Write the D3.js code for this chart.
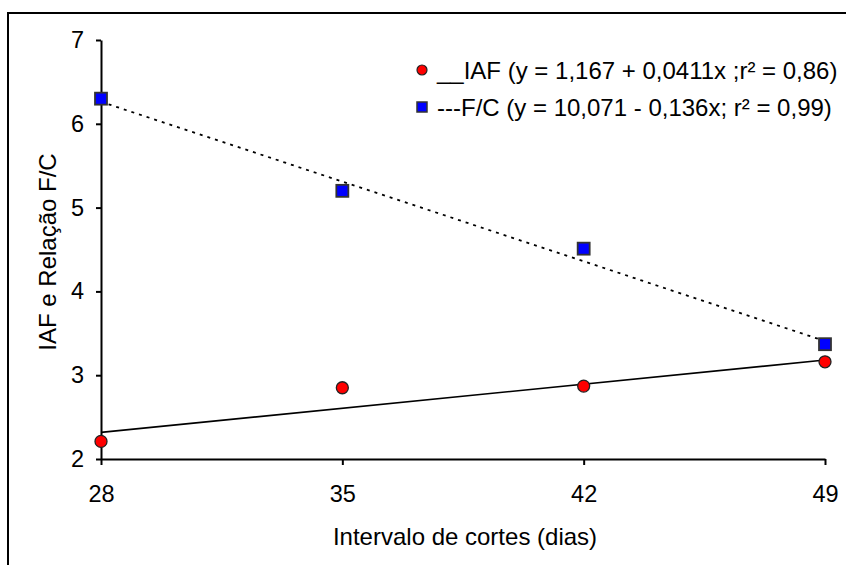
<!DOCTYPE html>
<html>
<head>
<meta charset="utf-8">
<script src="https://cdn.jsdelivr.net/npm/d3@7"></script>
<style>
  body { margin: 0; background: #fff; }
  svg text { font-family: "Liberation Sans", Arial, sans-serif; fill: #000; }
</style>
</head>
<body>
<div id="chart"></div>
<script>
// data
const days = [28, 35, 42, 49];
const iaf = [2.21, 2.85, 2.87, 3.16];
const fc = [6.3, 5.2, 4.51, 3.37];
const yTicks = [2, 3, 4, 5, 6, 7];
// regression coefficients from the legend
const iafFit = { a: 1.167, b: 0.0411 };
const fcFit = { a: 10.071, b: -0.136 };
const legendLabels = [
  "__IAF (y = 1,167 + 0,0411x ;r\u00b2 = 0,86)",
  "---F/C (y = 10,071 - 0,136x; r\u00b2 = 0,99)"
];

const W = 846, H = 565;
const margin = { top: 40, right: 21, bottom: 106, left: 101 };

const svg = d3.select("#chart").append("svg")
  .attr("width", W)
  .attr("height", H);

// outer frame (runs off the right and bottom edges)
svg.append("rect")
  .attr("x", 8).attr("y", 13)
  .attr("width", W).attr("height", H)
  .attr("fill", "none")
  .attr("stroke", "#000")
  .attr("stroke-width", 2);

const x = d3.scaleLinear().domain([28, 49]).range([margin.left, W - margin.right]);
const y = d3.scaleLinear().domain([2, 7]).range([H - margin.bottom, margin.top]);

// axes
const xAxis = svg.append("g")
  .attr("transform", `translate(0, ${y(2)})`)
  .call(d3.axisBottom(x).tickValues(days).tickFormat(d3.format("d"))
    .tickSize(6).tickSizeOuter(0).tickPadding(30));
const yAxis = svg.append("g")
  .attr("transform", `translate(${x(28)}, 0)`)
  .call(d3.axisLeft(y).tickValues(yTicks).tickFormat(d3.format("d"))
    .tickSize(5).tickSizeOuter(0).tickPadding(12));

[xAxis, yAxis].forEach((g) => {
  g.select(".domain").attr("stroke", "#000").attr("stroke-width", 2);
  g.selectAll(".tick line").attr("stroke", "#000").attr("stroke-width", 2);
  g.selectAll(".tick text").style("font-size", "23.5px").attr("fill", "#000");
});
xAxis.selectAll(".tick text").attr("dy", "0.3em");

// axis titles
svg.append("text")
  .attr("x", (x(28) + x(49)) / 2 + 2)
  .attr("y", 545)
  .attr("text-anchor", "middle")
  .style("font-size", "24px")
  .text("Intervalo de cortes (dias)");

svg.append("text")
  .attr("transform", `translate(56, ${252}) rotate(-90)`)
  .attr("text-anchor", "middle")
  .style("font-size", "24px")
  .text("IAF e Rela\u00e7\u00e3o F/C");

// trend lines
const line = d3.line().x((d) => x(d[0])).y((d) => y(d[1]));
const ends = [28, 49];

svg.append("path")
  .datum(ends.map((d) => [d, iafFit.a + iafFit.b * d]))
  .attr("fill", "none")
  .attr("stroke", "#000")
  .attr("stroke-width", 1.6)
  .attr("d", line);

svg.append("path")
  .datum(ends.map((d) => [d, fcFit.a + fcFit.b * d]))
  .attr("fill", "none")
  .attr("stroke", "#000")
  .attr("stroke-width", 1.8)
  .attr("stroke-dasharray", "3,5")
  .attr("d", line);

// markers
svg.selectAll(".iaf")
  .data(days.map((d, i) => [d, iaf[i]]))
  .enter()
  .append("circle")
  .attr("class", "iaf")
  .attr("cx", (d) => x(d[0]))
  .attr("cy", (d) => y(d[1]))
  .attr("r", 6)
  .attr("fill", "#ff0000")
  .attr("stroke", "#222")
  .attr("stroke-width", 1.3);

svg.selectAll(".fc")
  .data(days.map((d, i) => [d, fc[i]]))
  .enter()
  .append("rect")
  .attr("class", "fc")
  .attr("x", (d) => x(d[0]) - 6)
  .attr("y", (d) => y(d[1]) - 6)
  .attr("width", 12)
  .attr("height", 12)
  .attr("fill", "#0000ff")
  .attr("stroke", "#333")
  .attr("stroke-width", 1.8);

// legend
const legend = svg.append("g").attr("transform", "translate(422, 70)");
legendLabels.forEach((label, i) => {
  const g = legend.append("g").attr("transform", `translate(0, ${i * 37})`);
  if (i === 0) {
    g.append("circle").attr("r", 5).attr("fill", "#ff0000")
      .attr("stroke", "#222").attr("stroke-width", 1.2);
  } else {
    g.append("rect").attr("x", -5).attr("y", -5).attr("width", 10).attr("height", 10)
      .attr("fill", "#0000ff").attr("stroke", "#333").attr("stroke-width", 1.5);
  }
  g.append("text")
    .attr("x", 15)
    .attr("y", 9)
    .style("font-size", "24px")
    .text(label);
});
</script>
</body>
</html>
